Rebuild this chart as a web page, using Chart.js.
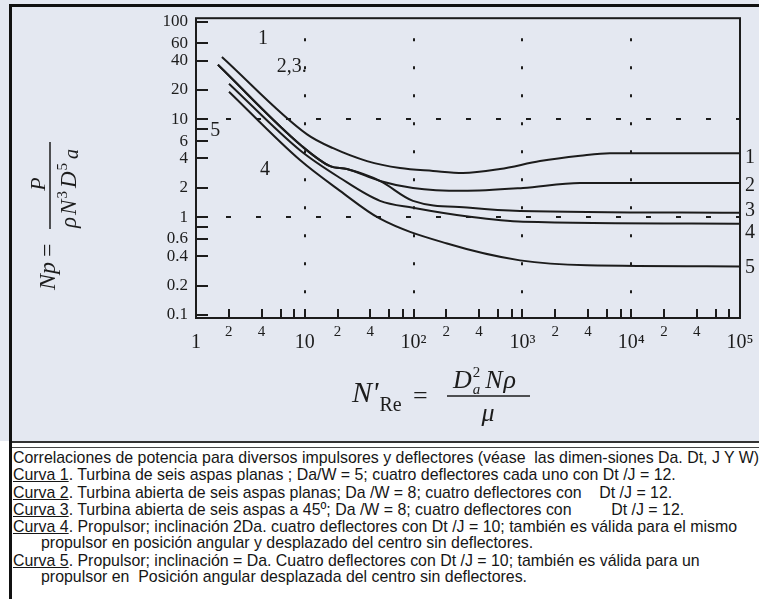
<!DOCTYPE html>
<html><head><meta charset="utf-8">
<script src="https://cdn.jsdelivr.net/npm/chart.js@4.4.0/dist/chart.umd.min.js"></script>
<style>
body{margin:0;background:#fff;}
#wrap{position:relative;width:759px;height:599px;overflow:hidden;background:#fff;}
#c{position:absolute;left:0;top:0;}
#topline{position:absolute;left:9px;top:4px;width:750px;height:3px;background:#111;}
#leftline{position:absolute;left:9px;top:4px;width:3px;height:595px;background:#111;}
#sep1{position:absolute;left:12px;top:441px;width:747px;height:2px;background:#333;}
#sep2{position:absolute;left:12px;top:447px;width:747px;height:1px;background:#444;}
#cap{position:absolute;left:13px;top:450px;width:760px;height:149px;font-family:"Liberation Sans Narrow","Arial Narrow","Liberation Sans",Arial,sans-serif;font-size:17px;color:#161616;white-space:nowrap;}
#cap div{position:absolute;left:0;line-height:18px;transform-origin:0 50%;}
#cap div.ind{left:28px;}
</style></head>
<body>
<div id="wrap">
<canvas id="c" width="759" height="441"></canvas>
<div id="topline"></div><div id="leftline"></div>
<div id="sep1"></div><div id="sep2"></div>
<div id="cap">
<div id="l1" style="top:-1px">Correlaciones de potencia para diversos impulsores y deflectores (véase&nbsp; las dimen-siones Da. Dt, J Y W)</div>
<div style="top:16px"><u>Curva 1</u>. Turbina de seis aspas planas ; Da/W = 5; cuatro deflectores cada uno con Dt /J = 12.</div>
<div style="top:34px"><u>Curva 2</u>. Turbina abierta de seis aspas planas; Da /W = 8; cuatro deflectores con &nbsp;&nbsp; Dt /J = 12.</div>
<div style="top:51px"><u>Curva 3</u>. Turbina abierta de seis aspas a 45º; Da /W = 8; cuatro deflectores con &nbsp;&nbsp;&nbsp;&nbsp;&nbsp;&nbsp;&nbsp; Dt /J = 12.</div>
<div style="top:68px"><u>Curva 4</u>. Propulsor; inclinación 2Da. cuatro deflectores con Dt /J = 10; también es válida para el mismo</div>
<div class="ind" style="top:84px">propulsor en posición angular y desplazado del centro sin deflectores.</div>
<div style="top:102px"><u>Curva 5</u>. Propulsor; inclinación = Da. Cuatro deflectores con Dt /J = 10; también es válida para un</div>
<div class="ind" style="top:118px">propulsor en &nbsp;Posición angular desplazada del centro sin deflectores.</div>
</div>
</div>
<script>
// ---- data ----
const curveNames = ['1', '2', '3', '4', '5'];
const re1 = [1.73, 10.5, 18.2, 37.3, 75, 151, 284, 622, 1452, 3400, 6380, 100000];
const np1 = [43.6, 7.04, 5.08, 3.75, 3.18, 2.97, 2.83, 3.11, 3.75, 4.25, 4.52, 4.52];
const re2 = [1.59, 9.43, 17.1, 24.4, 49.1, 98.7, 284, 1013, 3385, 100000];
const np2 = [36.2, 5.32, 3.33, 3.11, 2.35, 1.99, 1.86, 1.99, 2.24, 2.24];
const re3 = [1.59, 9.43, 17.1, 24.4, 49.1, 98.7, 330, 951, 100000];
const np3 = [36.2, 5.32, 3.33, 3.11, 2.35, 1.47, 1.25, 1.16, 1.11];
const re4 = [2.01, 9.03, 21.1, 49.1, 98.7, 330, 1013, 100000];
const np4 = [23.2, 4.84, 2.52, 1.47, 1.25, 1.01, 0.90, 0.86];
const re5 = [2.01, 9.03, 21.1, 49.1, 203, 951, 3926, 100000];
const np5 = [19.2, 3.84, 1.86, 0.966, 0.538, 0.362, 0.322, 0.314];

const yTickValues = [100, 60, 40, 20, 10, 8, 6, 4, 2, 1, 0.8, 0.6, 0.4, 0.2, 0.1];
const yTickLabels = ['100', '60', '40', '20', '10', '', '6', '4', '2', '1', '', '0.6', '0.4', '0.2', '0.1'];
const xTickValues = [1, 2, 4, 6, 8, 10, 20, 40, 60, 80, 100, 200, 400, 600, 800, 1000, 2000, 4000, 6000, 8000, 10000, 20000, 40000, 60000, 80000, 100000];
const xTickLabels = ['1', '2', '4', '', '', '10', '2', '4', '', '', '10²', '2', '4', '', '', '10³', '2', '4', '', '', '10⁴', '2', '4', '', '', '10⁵'];
const gridX = [10, 100, 1000, 10000];
const gridY = [10, 1];

// curve-number annotations (data coordinates)
const noteText = ['1', '2,3.', '5', '4'];
const noteRe = [4.13, 7.6, 1.5, 4.3];
const noteNp = [69.6, 36.2, 7.9, 3.18];

const allRe = [re1, re2, re3, re4, re5];
const allNp = [np1, np2, np3, np4, np5];

const INK = '#1c1c1c';
const SERIF = '"Liberation Serif","Times New Roman",serif';

const datasets = curveNames.map((name, k) => ({
  label: 'Curva ' + name,
  data: allRe[k].map((r, i) => ({ x: r, y: allNp[k][i] })),
  borderColor: INK,
  borderWidth: 2,
  pointRadius: 0,
  fill: false,
  cubicInterpolationMode: 'monotone'
}));

function vtext(ctx, txt, bx, sy, font, align) {
  ctx.save();
  ctx.translate(bx, sy);
  ctx.rotate(-Math.PI / 2);
  ctx.font = font;
  ctx.textAlign = align || 'left';
  ctx.textBaseline = 'alphabetic';
  ctx.fillText(txt, 0, 0);
  const w = ctx.measureText(txt).width;
  ctx.restore();
  return w;
}
function htext(ctx, txt, x, y, font, align) {
  ctx.font = font;
  ctx.textAlign = align || 'left';
  ctx.textBaseline = 'alphabetic';
  ctx.fillText(txt, x, y);
  return ctx.measureText(txt).width;
}

const overlay = {
  id: 'overlay',
  beforeDraw(chart) {
    const ctx = chart.ctx;
    ctx.save();
    ctx.fillStyle = '#e4e8f1';
    ctx.fillRect(0, 0, chart.width, chart.height);
    ctx.restore();
  },
  afterDraw(chart) {
    const { ctx, chartArea: a, scales: { x, y } } = chart;
    ctx.save();
    ctx.strokeStyle = INK;
    ctx.fillStyle = INK;
    ctx.lineWidth = 2;
    ctx.strokeRect(a.left, a.top, a.right - a.left, a.bottom - a.top);
    // inward tick marks
    ctx.beginPath();
    yTickValues.forEach(v => {
      const py = Math.round(y.getPixelForValue(v));
      ctx.moveTo(a.left, py); ctx.lineTo(a.left + 12, py);
    });
    xTickValues.forEach(v => {
      const px = Math.round(x.getPixelForValue(v));
      ctx.moveTo(px, a.bottom); ctx.lineTo(px, a.bottom - 9);
    });
    ctx.stroke();

    // curve numbers inside the plot
    noteText.forEach((t, i) => {
      htext(ctx, t, x.getPixelForValue(noteRe[i]), y.getPixelForValue(noteNp[i]) + 7, '20px ' + SERIF, 'center');
    });
    // curve numbers at right end
    const rOff = [3, 1, -4, 7, 0];
    curveNames.forEach((t, k) => {
      const last = allNp[k][allNp[k].length - 1];
      htext(ctx, t, a.right + 5, y.getPixelForValue(last) + rOff[k] + 7, '20px ' + SERIF, 'left');
    });

    // y-axis title (rotated): Np = P / (rho N^3 D^5 a)
    let sy = 290;
    sy -= vtext(ctx, 'N', 55, sy, 'italic 24px ' + SERIF);
    sy -= vtext(ctx, 'p', 55, sy, 'italic 24px ' + SERIF);
    sy -= 5;
    vtext(ctx, '=', 55, sy, '24px ' + SERIF);
    ctx.lineWidth = 1.5;
    ctx.beginPath(); ctx.moveTo(50, 229); ctx.lineTo(50, 142); ctx.stroke();
    vtext(ctx, 'P', 45, 184, 'italic 22px ' + SERIF, 'center');
    let dy = 228;
    dy -= vtext(ctx, 'ρ', 76, dy, 'italic 23px ' + SERIF) + 2;
    dy -= vtext(ctx, 'N', 76, dy, 'italic 23px ' + SERIF) + 1;
    dy -= vtext(ctx, '3', 67, dy, '15px ' + SERIF) + 3;
    dy -= vtext(ctx, 'D', 76, dy, 'italic 23px ' + SERIF) + 1;
    dy -= vtext(ctx, '5', 67, dy, '15px ' + SERIF) + 4;
    vtext(ctx, 'a', 78, dy, 'italic 20px ' + SERIF);

    // x-axis title: N'Re = Da^2 N rho / mu
    let xx = 352;
    xx += htext(ctx, "N'", xx, 402, 'italic 30px ' + SERIF);
    xx += htext(ctx, 'Re', xx + 1, 411, '20px ' + SERIF) + 1;
    htext(ctx, '=', 413, 404, '26px ' + SERIF);
    ctx.lineWidth = 1.5;
    ctx.beginPath(); ctx.moveTo(447, 396); ctx.lineTo(530, 396); ctx.stroke();
    let nx = 453;
    nx += htext(ctx, 'D', nx, 388, 'italic 26px ' + SERIF);
    htext(ctx, '2', nx + 1, 377, '15px ' + SERIF);
    nx += htext(ctx, 'a', nx + 1, 394, 'italic 15px ' + SERIF) + 6;
    nx += htext(ctx, 'N', nx, 388, 'italic 26px ' + SERIF) + 1;
    htext(ctx, 'ρ', nx, 388, 'italic 26px ' + SERIF);
    htext(ctx, 'μ', 488, 421, 'italic 26px ' + SERIF, 'center');
    ctx.restore();
  }
};

new Chart(document.getElementById('c'), {
  type: 'line',
  data: { datasets },
  options: {
    responsive: false,
    animation: false,
    devicePixelRatio: 1,
    layout: { padding: { top: 16, right: 19, left: 0, bottom: 0 } },
    plugins: { legend: { display: false }, tooltip: { enabled: false } },
    scales: {
      x: {
        type: 'logarithmic',
        position: 'bottom',
        min: 1, max: 100000,
        bounds: 'data',
        afterBuildTicks: s => { s.ticks = xTickValues.map(v => ({ value: v })); },
        afterFit: s => { s.height = 123; },
        grid: {
          drawTicks: false,
          lineWidth: 2,
          color: c => (c.tick && gridX.includes(c.tick.value)) ? INK : 'rgba(0,0,0,0)'
        },
        border: { display: false, dash: [3, 25], dashOffset: 8 },
        ticks: {
          autoSkip: false, maxRotation: 0, minRotation: 0,
          padding: 5,
          color: INK,
          font: c => {
            const l = xTickLabels[c.index] || '';
            return l.startsWith('1') ? { family: SERIF, size: 20, lineHeight: 2.0 } : { family: SERIF, size: 15, lineHeight: 1.2 };
          },
          callback: (v, i) => xTickLabels[i]
        }
      },
      y: {
        type: 'logarithmic',
        position: 'left',
        min: 0.0932, max: 108.5,
        bounds: 'data',
        afterBuildTicks: s => { s.ticks = yTickValues.map(v => ({ value: v })); },
        afterFit: s => { s.width = 196; },
        grid: {
          drawTicks: false,
          lineWidth: 2,
          color: c => (c.tick && gridY.includes(c.tick.value)) ? INK : 'rgba(0,0,0,0)'
        },
        border: { display: false, dash: [5, 25], dashOffset: 0 },
        ticks: {
          autoSkip: false,
          padding: 8,
          color: INK,
          font: { family: SERIF, size: 17 },
          callback: (v, i) => yTickLabels[i]
        }
      }
    }
  },
  plugins: [overlay]
});

// condense the caption horizontally so its first line spans the box, as in the reference
(function () {
  const l1 = document.getElementById('l1');
  const w = l1.getBoundingClientRect().width;
  if (w > 0) {
    const k = Math.min(1, 746 / w);
    document.querySelectorAll('#cap div').forEach(d => { d.style.transform = 'scaleX(' + k.toFixed(4) + ')'; });
  }
})();
</script>
</body></html>
